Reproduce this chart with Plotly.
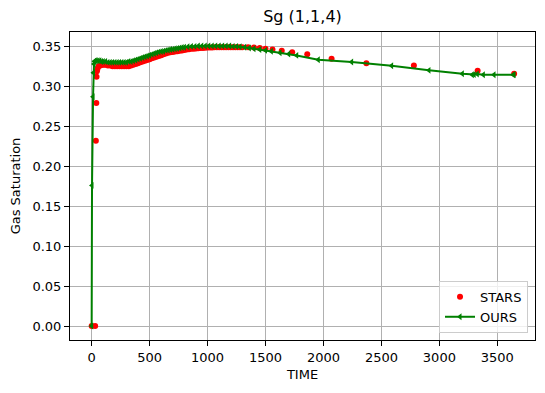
import plotly.graph_objects as go

# STARS (red dots)
stars_time = [0, 30, 36, 40, 42, 45, 50, 60, 75, 90, 105, 120, 140, 160, 180, 200, 220, 240, 260, 280,
              300, 320, 340, 360, 380, 400, 420, 440, 460, 480, 500, 520, 540, 560, 580, 600, 620, 640,
              660, 680, 700, 720, 740, 760, 780, 800, 820, 840, 860, 880, 900, 920, 940, 960, 980, 1000,
              1020, 1040, 1060, 1080, 1100, 1120, 1140, 1160, 1180, 1200, 1220, 1240, 1260, 1280, 1300,
              1350, 1400, 1450, 1500, 1560, 1640, 1730, 1860, 2070, 2370, 2780, 3330, 3645]
stars_sg = [0.0, 0.0, 0.232, 0.279, 0.312, 0.319, 0.322, 0.325, 0.326, 0.327, 0.327, 0.327, 0.326, 0.326,
            0.325, 0.325, 0.325, 0.325, 0.325, 0.325, 0.325, 0.325, 0.326, 0.327, 0.328, 0.329, 0.330,
            0.331, 0.332, 0.333, 0.334, 0.335, 0.336, 0.337, 0.338, 0.339, 0.340, 0.341, 0.342, 0.3425,
            0.343, 0.3435, 0.344, 0.3445, 0.345, 0.3455, 0.346, 0.3465, 0.347, 0.347, 0.3475, 0.3478,
            0.348, 0.348, 0.3482, 0.3485, 0.3485, 0.3487, 0.3488, 0.349, 0.349, 0.349, 0.349, 0.349,
            0.349, 0.349, 0.349, 0.349, 0.349, 0.349, 0.349, 0.349, 0.3485, 0.348, 0.347, 0.346, 0.3445,
            0.3425, 0.340, 0.3346, 0.329, 0.326, 0.3195, 0.3158]

# OURS (green line with left triangles)
ours_time = [0, 3, 12, 15, 20, 25, 30, 40, 55, 70, 85, 100, 120, 140, 160, 180, 200, 220, 240, 260, 280,
             300, 320, 340, 360, 380, 400, 420, 440, 460, 480, 500, 520, 540, 560, 580, 600, 620, 640,
             660, 680, 700, 720, 740, 760, 780, 800, 830, 860, 890, 920, 950, 980, 1010, 1040, 1070,
             1100, 1130, 1160, 1190, 1220, 1250, 1280, 1320, 1360, 1400, 1450, 1500, 1550, 1625, 1700,
             1769, 1955, 2243, 2588, 2910, 3198, 3284, 3300, 3327, 3379, 3471, 3638, 3645]
ours_sg = [0.0, 0.176, 0.287, 0.317, 0.328, 0.331, 0.332, 0.332, 0.332, 0.332, 0.331, 0.331, 0.331,
           0.330, 0.330, 0.330, 0.330, 0.330, 0.330, 0.330, 0.330, 0.330, 0.331, 0.331, 0.332, 0.333,
           0.334, 0.335, 0.336, 0.337, 0.338, 0.339, 0.340, 0.341, 0.342, 0.343, 0.3435, 0.344, 0.345,
           0.3455, 0.346, 0.3465, 0.347, 0.3475, 0.348, 0.3485, 0.349, 0.3495, 0.350, 0.350, 0.3505,
           0.3505, 0.3505, 0.3505, 0.3505, 0.3505, 0.3505, 0.3505, 0.3505, 0.3505, 0.350, 0.350, 0.3495,
           0.349, 0.348, 0.347, 0.346, 0.345, 0.344, 0.342, 0.3405, 0.3387, 0.3333, 0.3304, 0.3258,
           0.320, 0.3158, 0.3145, 0.3148, 0.3154, 0.3145, 0.3145, 0.3145, 0.3145]

y_ticks = [0.0, 0.05, 0.10, 0.15, 0.20, 0.25, 0.30, 0.35]
x_ticks = [0, 500, 1000, 1500, 2000, 2500, 3000, 3500]

font = "DejaVu Sans, Liberation Sans, sans-serif"

fig = go.Figure()
fig.add_trace(go.Scatter(
    x=stars_time, y=stars_sg, mode="markers", name="STARS",
    marker=dict(color="red", size=6, symbol="circle", line=dict(width=0)),
))
fig.add_trace(go.Scatter(
    x=ours_time, y=ours_sg, mode="lines+markers", name="OURS",
    line=dict(color="green", width=2),
    marker=dict(color="green", size=6, symbol="triangle-left", line=dict(width=0)),
))

axis_common = dict(
    showline=True, linecolor="black", linewidth=1, mirror=True,
    ticks="outside", ticklen=5, tickwidth=1, tickcolor="black",
    showgrid=True, gridcolor="#b0b0b0", gridwidth=1, zeroline=False,
    tickfont=dict(family=font, size=13, color="black"),
    automargin=False,
)

fig.update_layout(
    width=545, height=393,
    margin=dict(l=70, r=10, t=32, b=53),
    paper_bgcolor="white", plot_bgcolor="white",
    font=dict(family=font, size=13, color="black"),
    title=dict(text="Sg (1,1,4)", x=0.5, xref="paper", xanchor="center",
               y=1 - 16 / 393, yanchor="middle", font=dict(family=font, size=16, color="black")),
    xaxis=dict(range=[-187, 3825], tickvals=x_ticks,
               title=dict(text="TIME", font=dict(family=font, size=13), standoff=6), **axis_common),
    yaxis=dict(range=[-0.0175, 0.368], tickvals=y_ticks, tickformat=".2f",
               title=dict(text="Gas Saturation", font=dict(family=font, size=13), standoff=8), **axis_common),
    legend=dict(x=0.985, y=0.023, xanchor="right", yanchor="bottom",
                bgcolor="rgba(255,255,255,0.8)", bordercolor="#cccccc", borderwidth=1,
                font=dict(family=font, size=13, color="black")),
    showlegend=True,
)

fig.write_html("out.html", config={"displayModeBar": False},
               post_script="document.body.style.margin='0';document.body.style.overflow='hidden';")
